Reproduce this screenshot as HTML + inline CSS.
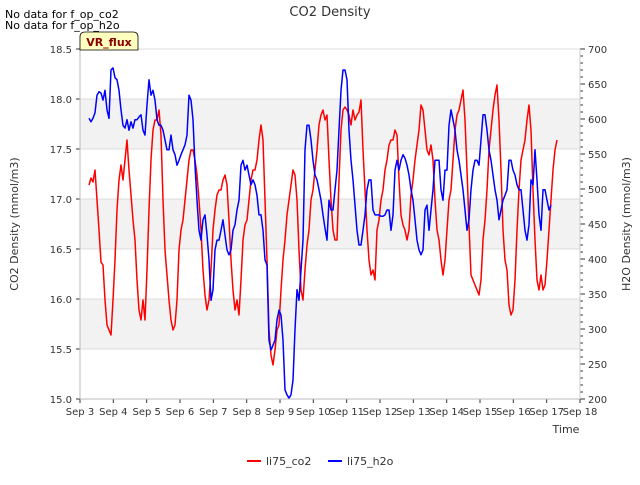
<!DOCTYPE html>
<html><head><meta charset="utf-8"><style>
body{margin:0;background:#fff;font-family:"Liberation Sans","DejaVu Sans",sans-serif}
svg text{font-family:"DejaVu Sans","Liberation Sans",sans-serif}
</style></head><body>
<svg id="chart" width="640" height="480" xmlns="http://www.w3.org/2000/svg">
<text x="330" y="16" font-size="13" text-anchor="middle" fill="#333">CO2 Density</text>
<text x="5" y="18" font-size="11" fill="#000">No data for f_op_co2</text>
<text x="5" y="29" font-size="11" fill="#000">No data for f_op_h2o</text>
<g id="bands"></g><g id="grid"></g>
<g id="series"></g>
<g id="axes"></g>
<g>
<path d="M80,50 L80,37 Q80,32 85,32 L133,32 Q138,32 138,37 L138,50 Z" fill="#ffffc0" stroke="#000" stroke-width="0.8"/>
<text x="109" y="46" font-size="11" font-weight="bold" fill="#8b0000" text-anchor="middle">VR_flux</text></g>
<text x="566" y="433" font-size="11" text-anchor="middle" fill="#333">Time</text>
<text transform="translate(18,224) rotate(-90)" font-size="11" text-anchor="middle" fill="#333">CO2 Density (mmol/m3)</text>
<text transform="translate(630,224) rotate(-90)" font-size="11" text-anchor="middle" fill="#333">H2O Density (mmol/m3)</text>
<g>
<g><line x1="247" y1="461" x2="261" y2="461" stroke="#f00" stroke-width="2"/><text x="266" y="465" font-size="11" fill="#333">li75_co2</text></g>
<g><line x1="328" y1="461" x2="342" y2="461" stroke="#00f" stroke-width="2"/><text x="347" y="465" font-size="11" fill="#333">li75_h2o</text></g>
</g>
</svg>
<script>
const xTickLabels=["Sep 3","Sep 4","Sep 5","Sep 6","Sep 7","Sep 8","Sep 9","Sep 10","Sep 11","Sep 12","Sep 13","Sep 14","Sep 15","Sep 16","Sep 17","Sep 18"];
const leftTicks=[15.0,15.5,16.0,16.5,17.0,17.5,18.0,18.5];
const rightTicks=[200,250,300,350,400,450,500,550,600,650,700];
const co2Start=3.27, h2oStart=3.27, sampleStep=0.06;
const co2Values=[17.14,17.21,17.17,17.29,16.99,16.69,16.37,16.34,15.99,15.74,15.69,15.64,15.99,16.39,16.89,17.19,17.34,17.19,17.39,17.59,17.29,17.04,16.79,16.59,16.19,15.89,15.79,15.99,15.79,16.29,16.89,17.39,17.69,17.79,17.79,17.89,17.64,16.99,16.49,16.24,15.99,15.79,15.69,15.74,15.99,16.49,16.69,16.79,16.99,17.19,17.39,17.49,17.49,17.39,17.24,16.99,16.69,16.29,16.04,15.89,15.99,16.29,16.69,16.89,17.04,17.09,17.09,17.19,17.24,17.14,16.79,16.39,16.09,15.89,15.99,15.84,16.19,16.59,16.74,16.79,16.99,17.19,17.29,17.29,17.39,17.59,17.74,17.59,16.99,16.39,15.69,15.44,15.34,15.49,15.69,15.74,16.09,16.39,16.59,16.84,16.99,17.14,17.29,17.24,16.99,16.49,16.09,15.99,16.29,16.54,16.69,16.99,17.09,17.29,17.49,17.74,17.84,17.89,17.79,17.84,17.39,16.99,16.69,16.59,16.59,17.19,17.69,17.89,17.92,17.89,17.84,17.74,17.89,17.79,17.84,17.87,17.99,17.49,17.09,16.69,16.39,16.24,16.29,16.19,16.69,16.79,16.99,17.09,17.29,17.39,17.54,17.59,17.59,17.69,17.64,17.19,16.84,16.74,16.69,16.59,16.69,17.04,17.19,17.39,17.54,17.69,17.94,17.89,17.69,17.49,17.44,17.54,17.39,16.99,16.69,16.59,16.39,16.24,16.39,16.69,16.99,17.09,17.39,17.69,17.84,17.89,17.99,18.09,17.79,17.29,16.74,16.24,16.19,16.14,16.09,16.04,16.19,16.59,16.79,17.09,17.49,17.69,17.89,18.04,18.14,17.79,17.29,16.69,16.39,16.29,15.94,15.84,15.89,16.19,16.69,17.09,17.39,17.49,17.59,17.79,17.94,17.69,17.09,16.59,16.19,16.09,16.24,16.09,16.14,16.39,16.69,16.99,17.29,17.49,17.59];
const h2oValues=[601,596,601,609,634,639,637,627,641,613,601,670,673,659,656,641,613,591,587,599,584,596,587,599,599,603,606,584,577,620,656,634,641,627,599,591,591,584,570,556,556,577,556,549,534,541,549,556,563,577,634,627,599,534,484,441,427,456,463,434,399,341,356,413,427,427,441,456,434,413,406,413,441,449,470,484,534,541,527,534,520,506,513,506,491,463,463,441,399,391,284,270,277,284,313,327,320,284,213,206,201,206,227,299,356,341,384,427,556,591,591,570,541,520,513,499,484,463,444,427,484,470,470,499,527,584,641,670,670,656,584,541,513,477,441,420,420,441,463,499,513,513,470,463,463,463,461,461,463,470,470,441,463,527,541,527,541,549,544,534,520,499,484,456,427,413,406,413,470,477,441,470,499,541,541,541,499,484,527,527,591,613,599,584,556,541,520,499,470,441,456,499,527,541,541,534,570,606,606,584,556,541,520,499,484,456,470,484,491,499,541,541,527,520,506,499,499,470,441,427,449,513,506,556,513,463,441,499,499,484,470,477];
const NS="http://www.w3.org/2000/svg";
const X0=80,X1=580,Y0=399,Y1=49;
const xDay=d=>X0+(d-3)*(X1-X0)/15;
const yL=v=>Y0-(v-15)*(Y0-Y1)/3.5;
const yR=v=>Y0-(v-200)*(Y0-Y1)/500;
function mk(tag,attrs,parent){const e=document.createElementNS(NS,tag);for(const k in attrs)e.setAttribute(k,attrs[k]);parent.appendChild(e);return e;}
const bands=document.getElementById('bands'),grid=document.getElementById('grid'),axes=document.getElementById('axes'),series=document.getElementById('series');
mk('rect',{x:X0,y:Y1,width:X1-X0,height:Y0-Y1,fill:'#fff'},bands);
for(const b of [15.5,16.5,17.5]){const r=mk('rect',{x:X0,y:yL(b+0.5),width:X1-X0,height:yL(b)-yL(b+0.5),fill:'#f2f2f2'},bands);

}
leftTicks.forEach(v=>{const l=mk('line',{x1:X0,x2:X1,y1:yL(v),y2:yL(v),stroke:'#dcdcdc','stroke-width':1},grid);


const t=mk('text',{x:X0-8,y:yL(v)+4,'font-size':10,'text-anchor':'end',fill:'#333'},axes);t.textContent=v.toFixed(1);


mk('line',{x1:X0-4,x2:X0,y1:yL(v),y2:yL(v),stroke:'#333'},axes);});
for(let v=200;v<=700;v+=10){mk('line',{x1:X1,x2:X1+(v%50===0?5:3),y1:yR(v),y2:yR(v),stroke:'#333'},axes);}
rightTicks.forEach(v=>{const t=mk('text',{x:X1+8,y:yR(v)+4,'font-size':10,fill:'#333'},axes);t.textContent=v;

});
xTickLabels.forEach((s,i)=>{const x=xDay(3+i);mk('line',{x1:x,x2:x,y1:Y0,y2:Y0+4,stroke:'#333'},axes);
const t=mk('text',{x:x,y:Y0+16,'font-size':10,'text-anchor':'middle',fill:'#333'},axes);t.textContent=s;

});
mk('line',{x1:X0,x2:X0,y1:Y1,y2:Y0,stroke:'#bbb'},axes);
mk('line',{x1:X0,x2:X1,y1:Y0,y2:Y0,stroke:'#bbb'},axes);
mk('line',{x1:X1,x2:X1,y1:Y1,y2:Y0,stroke:'#ccc'},axes);
mk('line',{x1:X0,x2:X1,y1:Y1,y2:Y1,stroke:'#ddd'},axes);
const pc=co2Values.map((v,i)=>xDay(co2Start+i*sampleStep).toFixed(1)+','+yL(v).toFixed(1)).join(' ');
const lc=mk('polyline',{points:pc,fill:'none',stroke:'#f00','stroke-width':1.5,'stroke-linejoin':'round'},series);


const ph=h2oValues.map((v,i)=>xDay(h2oStart+i*sampleStep).toFixed(1)+','+yR(v).toFixed(1)).join(' ');
const lh=mk('polyline',{points:ph,fill:'none',stroke:'#00f','stroke-width':1.5,'stroke-linejoin':'round'},series);


</script>
</body></html>
